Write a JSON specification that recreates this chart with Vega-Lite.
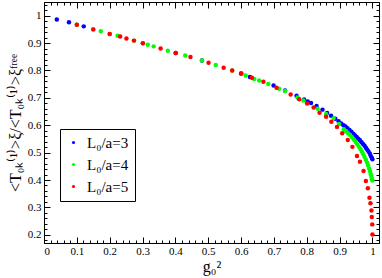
{
  "$schema": "https://vega.github.io/schema/vega-lite/v6.json",
  "autosize": "none",
  "width": 335,
  "height": 241,
  "padding": {"left": 44, "top": 2, "right": 3, "bottom": 35},
  "config": {
    "view": {"stroke": "black", "strokeWidth": 1},
    "axis": {"domain": false, "grid": false, "tickColor": "black", "labelColor": "black", "labelFont": "Liberation Serif", "labelFontSize": 11, "titleFont": "Liberation Serif", "titleFontWeight": "normal", "titleColor": "black", "tickWidth": 1}
  },
  "data": {"values": [
    {"g": 0.039, "r": 0.986, "L": "L₀/a=3"},
    {"g": 0.076, "r": 0.976, "L": "L₀/a=3"},
    {"g": 0.121, "r": 0.961, "L": "L₀/a=3"},
    {"g": 0.401, "r": 0.864, "L": "L₀/a=3"},
    {"g": 0.481, "r": 0.836, "L": "L₀/a=3"},
    {"g": 0.600, "r": 0.789, "L": "L₀/a=3"},
    {"g": 0.627, "r": 0.776, "L": "L₀/a=3"},
    {"g": 0.699, "r": 0.745, "L": "L₀/a=3"},
    {"g": 0.734, "r": 0.727, "L": "L₀/a=3"},
    {"g": 0.769, "r": 0.708, "L": "L₀/a=3"},
    {"g": 0.792, "r": 0.694, "L": "L₀/a=3"},
    {"g": 0.803, "r": 0.687, "L": "L₀/a=3"},
    {"g": 0.813, "r": 0.681, "L": "L₀/a=3"},
    {"g": 0.830, "r": 0.670, "L": "L₀/a=3"},
    {"g": 0.848, "r": 0.657, "L": "L₀/a=3"},
    {"g": 0.862, "r": 0.645, "L": "L₀/a=3"},
    {"g": 0.874, "r": 0.635, "L": "L₀/a=3"},
    {"g": 0.887, "r": 0.624, "L": "L₀/a=3"},
    {"g": 0.897, "r": 0.615, "L": "L₀/a=3"},
    {"g": 0.905, "r": 0.606, "L": "L₀/a=3"},
    {"g": 0.912, "r": 0.600, "L": "L₀/a=3"},
    {"g": 0.918, "r": 0.595, "L": "L₀/a=3"},
    {"g": 0.924, "r": 0.589, "L": "L₀/a=3"},
    {"g": 0.930, "r": 0.583, "L": "L₀/a=3"},
    {"g": 0.936, "r": 0.576, "L": "L₀/a=3"},
    {"g": 0.942, "r": 0.569, "L": "L₀/a=3"},
    {"g": 0.947, "r": 0.563, "L": "L₀/a=3"},
    {"g": 0.952, "r": 0.557, "L": "L₀/a=3"},
    {"g": 0.957, "r": 0.551, "L": "L₀/a=3"},
    {"g": 0.962, "r": 0.545, "L": "L₀/a=3"},
    {"g": 0.967, "r": 0.538, "L": "L₀/a=3"},
    {"g": 0.972, "r": 0.531, "L": "L₀/a=3"},
    {"g": 0.976, "r": 0.525, "L": "L₀/a=3"},
    {"g": 0.980, "r": 0.518, "L": "L₀/a=3"},
    {"g": 0.984, "r": 0.511, "L": "L₀/a=3"},
    {"g": 0.988, "r": 0.504, "L": "L₀/a=3"},
    {"g": 0.992, "r": 0.496, "L": "L₀/a=3"},
    {"g": 0.995, "r": 0.488, "L": "L₀/a=3"},
    {"g": 0.998, "r": 0.481, "L": "L₀/a=3"},
    {"g": 1.000, "r": 0.476, "L": "L₀/a=3"},
    {"g": 0.100, "r": 0.967, "L": "L₀/a=4"},
    {"g": 0.150, "r": 0.950, "L": "L₀/a=4"},
    {"g": 0.173, "r": 0.943, "L": "L₀/a=4"},
    {"g": 0.200, "r": 0.933, "L": "L₀/a=4"},
    {"g": 0.224, "r": 0.927, "L": "L₀/a=4"},
    {"g": 0.274, "r": 0.909, "L": "L₀/a=4"},
    {"g": 0.301, "r": 0.899, "L": "L₀/a=4"},
    {"g": 0.316, "r": 0.894, "L": "L₀/a=4"},
    {"g": 0.334, "r": 0.888, "L": "L₀/a=4"},
    {"g": 0.377, "r": 0.872, "L": "L₀/a=4"},
    {"g": 0.430, "r": 0.855, "L": "L₀/a=4"},
    {"g": 0.481, "r": 0.836, "L": "L₀/a=4"},
    {"g": 0.523, "r": 0.820, "L": "L₀/a=4"},
    {"g": 0.573, "r": 0.800, "L": "L₀/a=4"},
    {"g": 0.614, "r": 0.782, "L": "L₀/a=4"},
    {"g": 0.640, "r": 0.769, "L": "L₀/a=4"},
    {"g": 0.655, "r": 0.763, "L": "L₀/a=4"},
    {"g": 0.683, "r": 0.751, "L": "L₀/a=4"},
    {"g": 0.716, "r": 0.733, "L": "L₀/a=4"},
    {"g": 0.734, "r": 0.725, "L": "L₀/a=4"},
    {"g": 0.772, "r": 0.701, "L": "L₀/a=4"},
    {"g": 0.790, "r": 0.690, "L": "L₀/a=4"},
    {"g": 0.833, "r": 0.660, "L": "L₀/a=4"},
    {"g": 0.859, "r": 0.641, "L": "L₀/a=4"},
    {"g": 0.882, "r": 0.626, "L": "L₀/a=4"},
    {"g": 0.898, "r": 0.605, "L": "L₀/a=4"},
    {"g": 0.913, "r": 0.585, "L": "L₀/a=4"},
    {"g": 0.920, "r": 0.578, "L": "L₀/a=4"},
    {"g": 0.926, "r": 0.571, "L": "L₀/a=4"},
    {"g": 0.932, "r": 0.564, "L": "L₀/a=4"},
    {"g": 0.938, "r": 0.556, "L": "L₀/a=4"},
    {"g": 0.944, "r": 0.547, "L": "L₀/a=4"},
    {"g": 0.949, "r": 0.539, "L": "L₀/a=4"},
    {"g": 0.954, "r": 0.530, "L": "L₀/a=4"},
    {"g": 0.959, "r": 0.521, "L": "L₀/a=4"},
    {"g": 0.964, "r": 0.512, "L": "L₀/a=4"},
    {"g": 0.968, "r": 0.503, "L": "L₀/a=4"},
    {"g": 0.972, "r": 0.494, "L": "L₀/a=4"},
    {"g": 0.976, "r": 0.484, "L": "L₀/a=4"},
    {"g": 0.980, "r": 0.474, "L": "L₀/a=4"},
    {"g": 0.984, "r": 0.463, "L": "L₀/a=4"},
    {"g": 0.987, "r": 0.453, "L": "L₀/a=4"},
    {"g": 0.990, "r": 0.442, "L": "L₀/a=4"},
    {"g": 0.993, "r": 0.431, "L": "L₀/a=4"},
    {"g": 0.995, "r": 0.421, "L": "L₀/a=4"},
    {"g": 0.997, "r": 0.411, "L": "L₀/a=4"},
    {"g": 0.999, "r": 0.403, "L": "L₀/a=4"},
    {"g": 1.000, "r": 0.398, "L": "L₀/a=4"},
    {"g": 0.100, "r": 0.967, "L": "L₀/a=5"},
    {"g": 0.150, "r": 0.950, "L": "L₀/a=5"},
    {"g": 0.200, "r": 0.933, "L": "L₀/a=5"},
    {"g": 0.232, "r": 0.924, "L": "L₀/a=5"},
    {"g": 0.251, "r": 0.917, "L": "L₀/a=5"},
    {"g": 0.274, "r": 0.909, "L": "L₀/a=5"},
    {"g": 0.301, "r": 0.899, "L": "L₀/a=5"},
    {"g": 0.355, "r": 0.880, "L": "L₀/a=5"},
    {"g": 0.401, "r": 0.864, "L": "L₀/a=5"},
    {"g": 0.446, "r": 0.849, "L": "L₀/a=5"},
    {"g": 0.501, "r": 0.828, "L": "L₀/a=5"},
    {"g": 0.547, "r": 0.810, "L": "L₀/a=5"},
    {"g": 0.573, "r": 0.800, "L": "L₀/a=5"},
    {"g": 0.601, "r": 0.789, "L": "L₀/a=5"},
    {"g": 0.633, "r": 0.773, "L": "L₀/a=5"},
    {"g": 0.668, "r": 0.759, "L": "L₀/a=5"},
    {"g": 0.708, "r": 0.737, "L": "L₀/a=5"},
    {"g": 0.751, "r": 0.712, "L": "L₀/a=5"},
    {"g": 0.777, "r": 0.695, "L": "L₀/a=5"},
    {"g": 0.801, "r": 0.679, "L": "L₀/a=5"},
    {"g": 0.821, "r": 0.665, "L": "L₀/a=5"},
    {"g": 0.839, "r": 0.646, "L": "L₀/a=5"},
    {"g": 0.859, "r": 0.631, "L": "L₀/a=5"},
    {"g": 0.875, "r": 0.613, "L": "L₀/a=5"},
    {"g": 0.892, "r": 0.594, "L": "L₀/a=5"},
    {"g": 0.908, "r": 0.571, "L": "L₀/a=5"},
    {"g": 0.925, "r": 0.546, "L": "L₀/a=5"},
    {"g": 0.939, "r": 0.521, "L": "L₀/a=5"},
    {"g": 0.953, "r": 0.488, "L": "L₀/a=5"},
    {"g": 0.962, "r": 0.467, "L": "L₀/a=5"},
    {"g": 0.973, "r": 0.433, "L": "L₀/a=5"},
    {"g": 0.980, "r": 0.396, "L": "L₀/a=5"},
    {"g": 0.986, "r": 0.370, "L": "L₀/a=5"},
    {"g": 0.991, "r": 0.335, "L": "L₀/a=5"},
    {"g": 0.994, "r": 0.315, "L": "L₀/a=5"},
    {"g": 0.997, "r": 0.289, "L": "L₀/a=5"},
    {"g": 0.998, "r": 0.265, "L": "L₀/a=5"},
    {"g": 0.9995, "r": 0.238, "L": "L₀/a=5"},
    {"g": 1.000, "r": 0.201, "L": "L₀/a=5"}
  ]},
  "resolve": {"axis": {"x": "independent", "y": "independent"}},
  "layer": [
    {
      "mark": {"type": "point", "filled": true, "opacity": 1, "size": 20, "shape": "circle"},
      "encoding": {
        "x": {"field": "g", "type": "quantitative", "scale": {"domain": [0, 1.02], "nice": false, "zero": false},
          "axis": {"orient": "bottom", "values": [0, 0.1, 0.2, 0.3, 0.4, 0.5, 0.6, 0.7, 0.8, 0.9, 1], "format": "~g", "tickSize": -6, "labelPadding": 8, "title": "g₀²", "titleFontSize": 16, "titlePadding": 2}},
        "y": {"field": "r", "type": "quantitative", "scale": {"domain": [0.17, 1.05], "nice": false, "zero": false},
          "axis": {"orient": "left", "values": [0.2, 0.3, 0.4, 0.5, 0.6, 0.7, 0.8, 0.9, 1], "format": "~g", "tickSize": -6, "labelPadding": 9, "title": "<T₀ₖ⁽¹⁾>ξ/<T₀ₖ⁽¹⁾>ξᶠʳᵉᵉ", "titleFontSize": 16, "titlePadding": 4}},
        "color": {"field": "L", "type": "nominal", "sort": null,
          "scale": {"domain": ["L₀/a=3", "L₀/a=4", "L₀/a=5"], "range": ["#0000ff", "#00ff00", "#ff0000"]},
          "legend": {"orient": "none", "legendX": 16, "legendY": 127, "title": null, "strokeColor": "black", "fillColor": "white", "padding": 6, "symbolSize": 10, "symbolType": "circle", "symbolStrokeWidth": 0, "labelFont": "Liberation Serif", "labelFontSize": 15, "labelColor": "black", "rowPadding": 6, "labelOffset": 6}}
      }
    },
    {
      "mark": {"type": "point", "opacity": 0},
      "encoding": {
        "x": {"field": "g", "type": "quantitative", "axis": {"orient": "bottom", "values": [0, 0.02, 0.04, 0.06, 0.08, 0.12, 0.14, 0.16, 0.18, 0.22, 0.24, 0.26, 0.28, 0.32, 0.34, 0.36, 0.38, 0.42, 0.44, 0.46, 0.48, 0.52, 0.54, 0.56, 0.58, 0.62, 0.64, 0.66, 0.68, 0.72, 0.74, 0.76, 0.78, 0.82, 0.84, 0.86, 0.88, 0.92, 0.94, 0.96, 0.98, 1.02], "tickSize": -3, "labels": false, "title": null}},
        "y": {"field": "r", "type": "quantitative", "axis": {"orient": "left", "values": [0.18, 0.22, 0.24, 0.26, 0.28, 0.32, 0.34, 0.36, 0.38, 0.42, 0.44, 0.46, 0.48, 0.52, 0.54, 0.56, 0.58, 0.62, 0.64, 0.66, 0.68, 0.72, 0.74, 0.76, 0.78, 0.82, 0.84, 0.86, 0.88, 0.92, 0.94, 0.96, 0.98, 1.02, 1.04], "tickSize": -3, "labels": false, "title": null}}
      }
    },
    {
      "mark": {"type": "point", "opacity": 0},
      "encoding": {
        "x": {"field": "g", "type": "quantitative", "axis": {"orient": "top", "values": [0, 0.1, 0.2, 0.3, 0.4, 0.5, 0.6, 0.7, 0.8, 0.9, 1], "tickSize": -6, "labels": false, "title": null}},
        "y": {"field": "r", "type": "quantitative", "axis": {"orient": "right", "values": [0.2, 0.3, 0.4, 0.5, 0.6, 0.7, 0.8, 0.9, 1], "tickSize": -6, "labels": false, "title": null}}
      }
    },
    {
      "mark": {"type": "point", "opacity": 0},
      "encoding": {
        "x": {"field": "g", "type": "quantitative", "axis": {"orient": "top", "values": [0.02, 0.04, 0.06, 0.08, 0.12, 0.14, 0.16, 0.18, 0.22, 0.24, 0.26, 0.28, 0.32, 0.34, 0.36, 0.38, 0.42, 0.44, 0.46, 0.48, 0.52, 0.54, 0.56, 0.58, 0.62, 0.64, 0.66, 0.68, 0.72, 0.74, 0.76, 0.78, 0.82, 0.84, 0.86, 0.88, 0.92, 0.94, 0.96, 0.98, 1.02], "tickSize": -3, "labels": false, "title": null}},
        "y": {"field": "r", "type": "quantitative", "axis": {"orient": "right", "values": [0.18, 0.22, 0.24, 0.26, 0.28, 0.32, 0.34, 0.36, 0.38, 0.42, 0.44, 0.46, 0.48, 0.52, 0.54, 0.56, 0.58, 0.62, 0.64, 0.66, 0.68, 0.72, 0.74, 0.76, 0.78, 0.82, 0.84, 0.86, 0.88, 0.92, 0.94, 0.96, 0.98, 1.02, 1.04], "tickSize": -3, "labels": false, "title": null}}
      }
    }
  ]
}
